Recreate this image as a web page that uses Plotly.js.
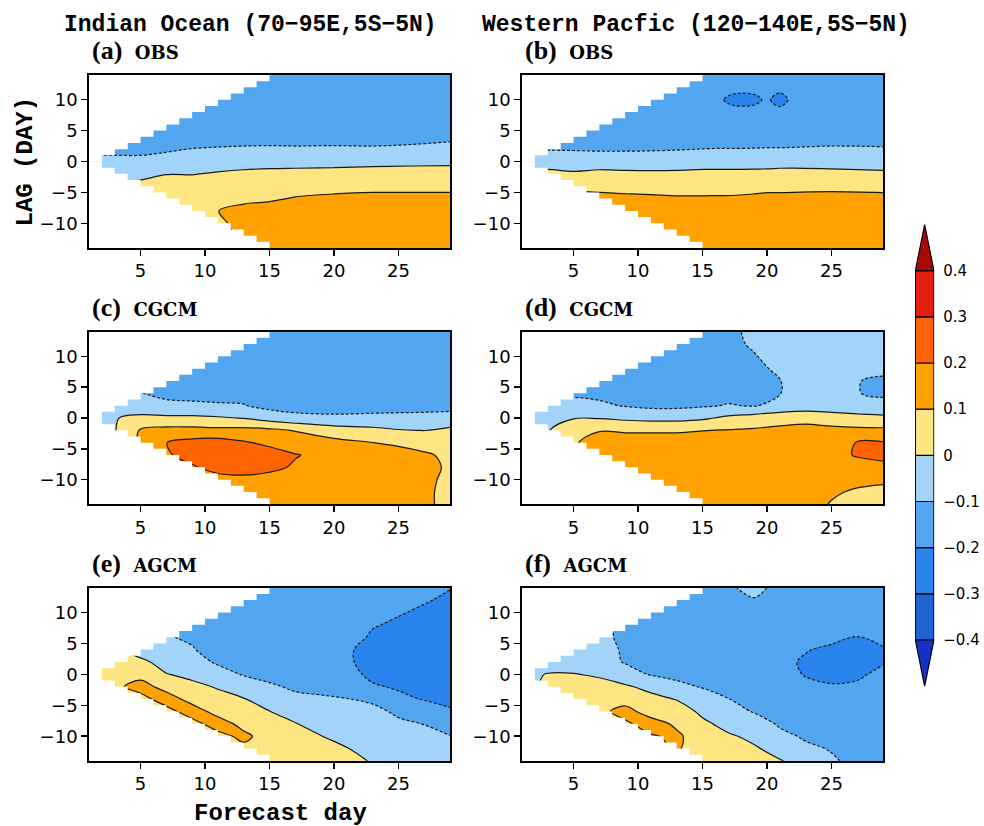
<!DOCTYPE html>
<html><head><meta charset="utf-8">
<script src="https://cdn.plot.ly/plotly-3.0.1.min.js"></script>
<style>html,body{margin:0;padding:0;background:#fff}</style>
</head><body><div id="chart" style="width:984px;height:826px"></div>
<script>
// Lag rows (days), shared by all panels
const lags = [-14,-12,-10,-8,-6,-4,-2,0,2,4,6,8,10,12,14];

// Each corr array lists one column (a forecast day) of correlation values over the lags above
const daysA = [1,3,5,7,9,11,13,15,17,20,23,26,29];
const corrA = [
 [0.07,0.07,0.07,0.06,0.04,0.01,-0.03,-0.08,-0.12,-0.14,-0.15,-0.15,-0.15,-0.15,-0.15],
 [0.07,0.07,0.07,0.06,0.04,0.01,-0.03,-0.08,-0.12,-0.14,-0.15,-0.15,-0.15,-0.15,-0.15],
 [0.08,0.08,0.08,0.07,0.05,0.02,-0.02,-0.08,-0.12,-0.14,-0.15,-0.15,-0.15,-0.15,-0.15],
 [0.09,0.09,0.09,0.085,0.07,0.04,-0.003,-0.07,-0.11,-0.14,-0.15,-0.15,-0.15,-0.15,-0.15],
 [0.095,0.095,0.095,0.09,0.075,0.045,-0.004,-0.06,-0.098,-0.13,-0.145,-0.15,-0.15,-0.15,-0.15],
 [0.07,0.08,0.085,0.099,0.08,0.05,0.01,-0.05,-0.095,-0.125,-0.14,-0.15,-0.15,-0.15,-0.15],
 [0.09,0.11,0.125,0.125,0.08,0.05,0.02,-0.04,-0.09,-0.13,-0.14,-0.15,-0.15,-0.15,-0.15],
 [0.12,0.13,0.15,0.13,0.09,0.055,0.025,-0.035,-0.088,-0.13,-0.145,-0.15,-0.15,-0.15,-0.15],
 [0.15,0.15,0.15,0.14,0.105,0.07,0.025,-0.03,-0.09,-0.13,-0.145,-0.15,-0.15,-0.15,-0.15],
 [0.15,0.15,0.15,0.15,0.112,0.08,0.03,-0.03,-0.088,-0.13,-0.145,-0.15,-0.15,-0.15,-0.15],
 [0.15,0.15,0.15,0.15,0.115,0.085,0.035,-0.025,-0.09,-0.13,-0.145,-0.15,-0.15,-0.15,-0.15],
 [0.15,0.15,0.15,0.15,0.115,0.085,0.035,-0.02,-0.097,-0.105,-0.13,-0.145,-0.15,-0.15,-0.15],
 [0.15,0.15,0.15,0.15,0.11,0.09,0.04,-0.02,-0.094,-0.104,-0.13,-0.145,-0.15,-0.15,-0.15]
];

const daysB = [1,3,5,7,9,11,13,15,16,17.3,19,20,21,22,25,29];
const corrB = [
 [0.15,0.15,0.15,0.14,0.12,0.075,0.025,-0.045,-0.105,-0.14,-0.15,-0.15,-0.15,-0.15,-0.15],
 [0.15,0.15,0.15,0.14,0.12,0.075,0.025,-0.045,-0.105,-0.14,-0.15,-0.15,-0.15,-0.15,-0.15],
 [0.16,0.16,0.16,0.15,0.125,0.08,0.015,-0.06,-0.105,-0.14,-0.15,-0.15,-0.15,-0.15,-0.15],
 [0.16,0.16,0.16,0.15,0.125,0.075,0.025,-0.05,-0.11,-0.14,-0.15,-0.15,-0.15,-0.15,-0.15],
 [0.16,0.16,0.16,0.15,0.12,0.07,0.02,-0.05,-0.11,-0.14,-0.15,-0.15,-0.15,-0.15,-0.15],
 [0.16,0.16,0.16,0.15,0.115,0.068,0.018,-0.05,-0.108,-0.14,-0.15,-0.15,-0.15,-0.15,-0.15],
 [0.16,0.16,0.16,0.15,0.11,0.065,0.02,-0.05,-0.104,-0.14,-0.15,-0.15,-0.15,-0.15,-0.15],
 [0.16,0.16,0.16,0.15,0.11,0.065,0.025,-0.045,-0.099,-0.14,-0.15,-0.15,-0.15,-0.15,-0.15],
 [0.16,0.16,0.16,0.15,0.11,0.068,0.025,-0.045,-0.098,-0.135,-0.15,-0.16,-0.17,-0.16,-0.15],
 [0.16,0.16,0.16,0.15,0.11,0.07,0.025,-0.045,-0.098,-0.135,-0.15,-0.16,-0.23,-0.16,-0.15],
 [0.16,0.16,0.16,0.15,0.115,0.075,0.028,-0.045,-0.097,-0.135,-0.15,-0.16,-0.23,-0.16,-0.15],
 [0.16,0.16,0.16,0.15,0.12,0.078,0.03,-0.045,-0.096,-0.13,-0.15,-0.16,-0.18,-0.16,-0.15],
 [0.16,0.16,0.16,0.15,0.12,0.078,0.033,-0.04,-0.096,-0.13,-0.15,-0.16,-0.25,-0.16,-0.15],
 [0.16,0.16,0.16,0.15,0.12,0.08,0.035,-0.04,-0.095,-0.13,-0.15,-0.16,-0.17,-0.16,-0.15],
 [0.16,0.16,0.16,0.15,0.125,0.08,0.03,-0.045,-0.094,-0.118,-0.14,-0.15,-0.15,-0.15,-0.15],
 [0.16,0.16,0.16,0.15,0.12,0.078,0.02,-0.05,-0.095,-0.12,-0.14,-0.15,-0.15,-0.15,-0.15]
];

const daysC = [1,3,5,7,9,11,13,15,17,20,23,25,27,29];
const corrC = [
 [-0.03,-0.03,-0.03,-0.03,-0.03,-0.03,-0.03,-0.04,-0.06,-0.08,-0.11,-0.14,-0.15,-0.15,-0.15],
 [-0.005,-0.005,-0.005,-0.005,-0.005,-0.005,-0.005,-0.003,-0.04,-0.08,-0.11,-0.14,-0.15,-0.15,-0.15],
 [0.15,0.15,0.15,0.14,0.13,0.12,0.11,0.015,-0.04,-0.098,-0.13,-0.15,-0.15,-0.15,-0.15],
 [0.15,0.16,0.17,0.18,0.19,0.199,0.13,0.02,-0.08,-0.12,-0.14,-0.15,-0.15,-0.15,-0.15],
 [0.16,0.17,0.18,0.19,0.23,0.23,0.13,0.02,-0.085,-0.125,-0.14,-0.15,-0.15,-0.15,-0.15],
 [0.15,0.16,0.17,0.23,0.26,0.24,0.125,0.01,-0.09,-0.13,-0.145,-0.15,-0.15,-0.15,-0.15],
 [0.15,0.16,0.18,0.235,0.26,0.21,0.13,-0.005,-0.095,-0.13,-0.145,-0.15,-0.15,-0.15,-0.15],
 [0.14,0.15,0.17,0.22,0.24,0.18,0.12,-0.04,-0.13,-0.145,-0.15,-0.15,-0.15,-0.15,-0.15],
 [0.13,0.14,0.16,0.19,0.205,0.15,0.095,-0.07,-0.14,-0.15,-0.15,-0.15,-0.15,-0.15,-0.15],
 [0.12,0.13,0.15,0.17,0.17,0.13,0.045,-0.08,-0.145,-0.15,-0.15,-0.15,-0.15,-0.15,-0.15],
 [0.12,0.13,0.14,0.16,0.15,0.101,0.025,-0.075,-0.14,-0.15,-0.15,-0.15,-0.15,-0.15,-0.15],
 [0.12,0.13,0.14,0.15,0.135,0.085,0.005,-0.07,-0.14,-0.15,-0.15,-0.15,-0.15,-0.15,-0.15],
 [0.12,0.12,0.125,0.13,0.11,0.07,-0.002,-0.07,-0.135,-0.15,-0.15,-0.15,-0.15,-0.15,-0.15],
 [0.07,0.07,0.075,0.085,0.085,0.06,0.02,-0.065,-0.13,-0.15,-0.15,-0.15,-0.15,-0.15,-0.15]
];

const daysD = [1,3,5,7,9,11,13,15,17,19,21,23,25,27,29];
const corrD = [
 [-0.03,-0.03,-0.03,-0.03,-0.03,-0.03,-0.03,-0.04,-0.07,-0.095,-0.12,-0.13,-0.14,-0.15,-0.15],
 [-0.01,-0.01,-0.01,-0.01,-0.01,-0.008,-0.006,-0.04,-0.08,-0.12,-0.13,-0.14,-0.15,-0.15,-0.15],
 [0.09,0.09,0.09,0.09,0.09,0.09,0.06,-0.005,-0.07,-0.115,-0.13,-0.14,-0.15,-0.15,-0.15],
 [0.15,0.15,0.15,0.15,0.15,0.14,0.095,-0.005,-0.085,-0.12,-0.14,-0.15,-0.15,-0.15,-0.15],
 [0.15,0.15,0.15,0.15,0.15,0.14,0.09,-0.02,-0.105,-0.13,-0.15,-0.15,-0.15,-0.15,-0.15],
 [0.15,0.15,0.15,0.15,0.15,0.14,0.09,-0.03,-0.12,-0.14,-0.15,-0.15,-0.15,-0.15,-0.15],
 [0.15,0.15,0.15,0.15,0.15,0.14,0.09,-0.03,-0.12,-0.145,-0.15,-0.15,-0.15,-0.15,-0.15],
 [0.15,0.15,0.15,0.15,0.15,0.14,0.098,-0.015,-0.11,-0.14,-0.15,-0.15,-0.15,-0.15,-0.15],
 [0.15,0.15,0.15,0.15,0.15,0.15,0.105,0.02,-0.095,-0.125,-0.14,-0.14,-0.13,-0.12,-0.115],
 [0.14,0.14,0.14,0.14,0.14,0.14,0.11,0.045,-0.105,-0.12,-0.125,-0.12,-0.105,-0.09,-0.085],
 [0.14,0.14,0.14,0.14,0.14,0.14,0.12,0.065,-0.075,-0.102,-0.102,-0.085,-0.07,-0.065,-0.065],
 [0.13,0.13,0.14,0.14,0.14,0.14,0.125,0.075,-0.06,-0.07,-0.07,-0.07,-0.07,-0.065,-0.065],
 [0.095,0.11,0.13,0.14,0.16,0.16,0.12,0.06,-0.07,-0.075,-0.075,-0.075,-0.07,-0.065,-0.065],
 [0.08,0.09,0.12,0.15,0.21,0.205,0.12,0.035,-0.07,-0.098,-0.098,-0.075,-0.07,-0.065,-0.065],
 [0.08,0.085,0.11,0.17,0.23,0.205,0.12,0.025,-0.08,-0.11,-0.11,-0.085,-0.07,-0.065,-0.065]
];

const daysE = [1,3,5,7,9,11,13,15,17,19,21,23,25,27,29];
const corrE = [
 [0.05,0.05,0.05,0.05,0.05,0.05,0.05,0.05,0.03,0.005,-0.05,-0.08,-0.098,-0.12,-0.13],
 [0.06,0.06,0.06,0.06,0.06,0.07,0.07,0.099,0.04,0.01,-0.04,-0.08,-0.095,-0.12,-0.13],
 [0.06,0.06,0.06,0.06,0.06,0.055,0.15,0.055,0.03,-0.06,-0.09,-0.11,-0.12,-0.13,-0.13],
 [0.06,0.06,0.06,0.06,0.055,0.16,0.055,0.005,-0.05,-0.08,-0.095,-0.11,-0.12,-0.13,-0.13],
 [0.06,0.06,0.06,0.055,0.16,0.055,0.03,-0.03,-0.07,-0.095,-0.11,-0.12,-0.13,-0.13,-0.13],
 [0.06,0.06,0.06,0.16,0.055,0.04,-0.01,-0.07,-0.11,-0.13,-0.14,-0.14,-0.14,-0.14,-0.14],
 [0.06,0.07,0.13,0.06,0.045,0.005,-0.06,-0.105,-0.13,-0.14,-0.14,-0.14,-0.14,-0.14,-0.14],
 [0.05,0.05,0.04,0.03,0.002,-0.04,-0.09,-0.12,-0.14,-0.15,-0.15,-0.15,-0.15,-0.15,-0.15],
 [0.04,0.03,0.02,0.005,-0.05,-0.085,-0.11,-0.14,-0.15,-0.15,-0.15,-0.15,-0.15,-0.15,-0.15],
 [0.03,0.02,0.002,-0.04,-0.07,-0.09,-0.12,-0.15,-0.16,-0.16,-0.16,-0.16,-0.16,-0.16,-0.16],
 [0.02,0.003,-0.03,-0.06,-0.08,-0.098,-0.13,-0.17,-0.19,-0.19,-0.17,-0.16,-0.16,-0.16,-0.16],
 [-0.005,-0.03,-0.05,-0.07,-0.085,-0.11,-0.19,-0.22,-0.225,-0.225,-0.21,-0.195,-0.18,-0.17,-0.17],
 [-0.03,-0.05,-0.07,-0.09,-0.11,-0.18,-0.21,-0.23,-0.23,-0.23,-0.22,-0.21,-0.195,-0.18,-0.17],
 [-0.05,-0.07,-0.09,-0.101,-0.15,-0.205,-0.22,-0.23,-0.23,-0.23,-0.23,-0.22,-0.21,-0.195,-0.18],
 [-0.06,-0.08,-0.098,-0.13,-0.19,-0.22,-0.23,-0.24,-0.24,-0.24,-0.24,-0.23,-0.22,-0.21,-0.198]
];

const daysF = [1,3,5,7,9,11,13,15,17,19,21,23,25,27,29];
const corrF = [
 [-0.01,-0.01,-0.01,-0.01,-0.01,-0.01,-0.04,-0.03,-0.05,-0.07,-0.08,-0.09,-0.09,-0.09,-0.09],
 [0.05,0.05,0.05,0.05,0.05,0.05,0.03,0.005,-0.05,-0.07,-0.08,-0.09,-0.09,-0.09,-0.09],
 [0.06,0.06,0.06,0.06,0.06,0.055,0.035,0.005,-0.055,-0.08,-0.09,-0.095,-0.095,-0.095,-0.095],
 [0.06,0.06,0.06,0.07,0.07,0.06,0.04,-0.015,-0.07,-0.085,-0.09,-0.09,-0.09,-0.09,-0.09],
 [0.06,0.06,0.065,0.08,0.14,0.05,0.015,-0.07,-0.105,-0.105,-0.108,-0.108,-0.108,-0.108,-0.108],
 [0.06,0.06,0.09,0.15,0.05,0.03,-0.03,-0.105,-0.13,-0.14,-0.14,-0.14,-0.14,-0.14,-0.14],
 [0.06,0.11,0.12,0.08,0.05,-0.005,-0.08,-0.12,-0.14,-0.15,-0.15,-0.15,-0.15,-0.15,-0.15],
 [0.05,0.05,0.04,0.02,-0.02,-0.06,-0.105,-0.13,-0.14,-0.15,-0.15,-0.15,-0.15,-0.15,-0.15],
 [0.04,0.03,0.012,-0.03,-0.07,-0.098,-0.13,-0.15,-0.15,-0.15,-0.15,-0.14,-0.13,-0.12,-0.11],
 [0.03,0.01,-0.02,-0.06,-0.105,-0.13,-0.15,-0.16,-0.16,-0.16,-0.16,-0.15,-0.14,-0.105,-0.08],
 [0.005,-0.03,-0.08,-0.11,-0.14,-0.15,-0.16,-0.17,-0.18,-0.18,-0.17,-0.16,-0.14,-0.13,-0.12],
 [-0.03,-0.085,-0.11,-0.14,-0.16,-0.17,-0.18,-0.205,-0.21,-0.195,-0.18,-0.16,-0.15,-0.14,-0.13],
 [-0.09,-0.105,-0.13,-0.15,-0.17,-0.18,-0.195,-0.215,-0.22,-0.215,-0.18,-0.17,-0.15,-0.14,-0.13],
 [-0.12,-0.13,-0.14,-0.15,-0.16,-0.17,-0.19,-0.21,-0.225,-0.225,-0.201,-0.18,-0.16,-0.14,-0.13],
 [-0.12,-0.13,-0.14,-0.15,-0.16,-0.17,-0.175,-0.185,-0.205,-0.205,-0.185,-0.17,-0.15,-0.14,-0.13]
];

// Largest |lag| sampled in each forecast-day cell [1,2], [2,3], ... [28,29]
const sampledLagReach = [0,1,2,3,4,5,6,7,8,9,10,11,12,13,14,14,14,14,14,14,14,14,14,14,14,14,14,14];

// Shading levels and colours (band below -0.4 ... band above 0.4)
const levels = [-0.4,-0.3,-0.2,-0.1,0,0.1,0.2,0.3,0.4];
const bandColors = ['#1432c8','#1e64d2','#2a84ee','#52a6f0','#a2d3f8','#ffe582','#ffa200','#ff6400','#e41e12','#a80808'];

const panelLabels = [['(a)','OBS'],['(b)','OBS'],['(c)','CGCM'],['(d)','CGCM'],['(e)','AGCM'],['(f)','AGCM']];
const regionTitles = ['Indian Ocean (70\u221295E,5S\u22125N)','Western Pacfic (120\u2212140E,5S\u22125N)'];
const dayTicks = [5,10,15,20,25];
const lagTicks = [-10,-5,0,5,10];

const W = 984, H = 826;
const px = v => v / W, py = v => 1 - v / H;
const step = 0.1;
const fillScale = bandColors.map((c, i) => [i / (bandColors.length - 1), c]);

const panels = [
  {days: daysA, corr: corrA, xd: [89, 450], yd: [75, 248]},
  {days: daysB, corr: corrB, xd: [522, 883], yd: [75, 248]},
  {days: daysC, corr: corrC, xd: [89, 450], yd: [331.7, 504.3]},
  {days: daysD, corr: corrD, xd: [522, 883], yd: [331.7, 504.3]},
  {days: daysE, corr: corrE, xd: [89, 450], yd: [587.7, 761]},
  {days: daysF, corr: corrF, xd: [522, 883], yd: [587.7, 761]}
];

const traces = [];
const layout = {
  width: W, height: H, margin: {l: 0, r: 0, t: 0, b: 0},
  paper_bgcolor: '#fff', plot_bgcolor: '#fff', showlegend: false,
  annotations: []
};

const dayMin = 1, dayMax = 29, lagMax = 14;

panels.forEach((p, i) => {
  const n = i + 1;
  const xa = n === 1 ? 'x' : 'x' + n, ya = n === 1 ? 'y' : 'y' + n;
  const common = {type: 'contour', x: p.days, y: lags, z: p.corr, transpose: true,
    xaxis: xa, yaxis: ya, showscale: false, hoverinfo: 'skip', autocontour: false};
  traces.push(Object.assign({}, common, {
    contours: {start: levels[0], end: levels[levels.length - 1], size: step, coloring: 'fill', showlines: false},
    colorscale: fillScale, line: {width: 0, smoothing: 1}
  }));
  traces.push(Object.assign({}, common, {
    contours: {start: 0, end: levels[levels.length - 1], size: step, coloring: 'none', showlines: true},
    line: {color: '#1a1a1a', width: 1.2, smoothing: 1}
  }));
  traces.push(Object.assign({}, common, {
    contours: {start: levels[0], end: -step, size: step, coloring: 'none', showlines: true},
    line: {color: '#1a1a1a', width: 1.2, dash: '3px,2px', smoothing: 1}
  }));
  // white staircase for unsampled lags
  [1, -1].forEach(sgn => {
    const xs = [dayMin], ys = [sgn * lagMax];
    sampledLagReach.forEach((r, k) => { xs.push(dayMin + k, dayMin + k + 1); ys.push(sgn * r, sgn * r); });
    xs.push(dayMax, dayMin); ys.push(sgn * lagMax, sgn * lagMax);
    traces.push({type: 'scatter', mode: 'lines', x: xs, y: ys, fill: 'toself', fillcolor: '#ffffff',
      line: {width: 0, color: 'rgba(0,0,0,0)'}, xaxis: xa, yaxis: ya, hoverinfo: 'skip'});
  });
  const axBase = {showgrid: false, zeroline: false, showline: true, mirror: true, linecolor: '#000', linewidth: 1.8,
    ticks: 'outside', ticklen: 6, tickwidth: 1.5, tickcolor: '#000',
    tickfont: {family: 'DejaVu Sans', size: 18, color: '#000'}, fixedrange: true};
  layout['xaxis' + (n === 1 ? '' : n)] = Object.assign({}, axBase, {
    domain: [px(p.xd[0]), px(p.xd[1])], range: [dayMin, dayMax], tickvals: dayTicks, anchor: ya});
  layout['yaxis' + (n === 1 ? '' : n)] = Object.assign({}, axBase, {
    domain: [py(p.yd[1]), py(p.yd[0])], range: [-lagMax, lagMax], tickvals: lagTicks, anchor: xa});
  // panel label
  layout.annotations.push({xref: 'paper', yref: 'paper', x: px(p.xd[0] + 1), y: py(p.yd[0] - 8),
    xanchor: 'left', yanchor: 'bottom', showarrow: false,
    text: '<b>' + panelLabels[i][0] + '</b><span style="font-family:DejaVu Serif;font-size:18px"><b>\u00a0\u00a0' + panelLabels[i][1] + '</b></span>',
    font: {family: 'Liberation Serif', size: 26, color: '#000'}});
});

// region titles
[[250, 0], [696, 1]].forEach(([cx, k]) => {
  layout.annotations.push({xref: 'paper', yref: 'paper', x: px(cx), y: py(25), xanchor: 'center', yanchor: 'middle',
    showarrow: false, text: '<b>' + regionTitles[k] + '</b>', font: {family: 'Liberation Mono', size: 23, color: '#000'}});
});
layout.annotations.push({xref: 'paper', yref: 'paper', x: px(25), y: py(161.5), xanchor: 'center', yanchor: 'middle',
  textangle: -90, showarrow: false, text: '<b>LAG (DAY)</b>', font: {family: 'Liberation Mono', size: 24, color: '#000'}});
layout.annotations.push({xref: 'paper', yref: 'paper', x: px(280), y: py(813), xanchor: 'center', yanchor: 'middle',
  showarrow: false, text: '<b>Forecast day</b>', font: {family: 'Liberation Mono', size: 24, color: '#000'}});

// colour bar as its own small subplot
const inner = bandColors.slice(1, bandColors.length - 1);
traces.push({type: 'bar', x: inner.map(() => 0.5), y: levels.slice(1).map((v, i) => v - levels[i]),
  base: levels.slice(0, -1), width: 1, marker: {color: inner, line: {color: '#000', width: 1.2}},
  xaxis: 'x7', yaxis: 'y7', hoverinfo: 'skip'});
const topLevel = levels[levels.length - 1], botLevel = levels[0];
traces.push({type: 'scatter', mode: 'lines', x: [0, 1, 0.5, 0], y: [topLevel, topLevel, topLevel + step, topLevel], fill: 'toself',
  fillcolor: bandColors[bandColors.length - 1], line: {color: '#000', width: 1.2}, xaxis: 'x7', yaxis: 'y7', hoverinfo: 'skip'});
traces.push({type: 'scatter', mode: 'lines', x: [0, 1, 0.5, 0], y: [botLevel, botLevel, botLevel - step, botLevel], fill: 'toself',
  fillcolor: bandColors[0], line: {color: '#000', width: 1.2}, xaxis: 'x7', yaxis: 'y7', hoverinfo: 'skip'});
layout.xaxis7 = {domain: [px(915), px(934.3)], range: [-0.02, 1.02], visible: false, anchor: 'y7', fixedrange: true};
layout.yaxis7 = {domain: [py(690.8), py(219.9)], range: [-0.51, 0.51], side: 'right', anchor: 'x7',
  showgrid: false, zeroline: false, showline: false, ticks: 'outside', ticklen: 5, tickcolor: 'rgba(0,0,0,0)',
  tickvals: levels, ticktext: levels.map(v => v === 0 ? '0' : (v < 0 ? '\u2212' : '') + Math.abs(v).toFixed(1)),
  tickfont: {family: 'DejaVu Sans', size: 15, color: '#000'}, fixedrange: true};

Plotly.newPlot('chart', traces, layout, {staticPlot: true, displayModeBar: false});
</script>
</body></html>
